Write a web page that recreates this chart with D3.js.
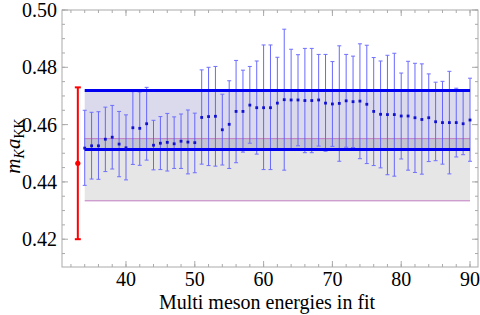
<!DOCTYPE html>
<html>
<head>
<meta charset="utf-8">
<script src="https://cdn.jsdelivr.net/npm/d3@7"></script>
<style>
  body { margin: 0; background: #fff; }
</style>
</head>
<body>
<div id="chart"></div>
<script>
// multi meson energies used in the fit
var fitCounts = [34, 35, 36, 37, 38, 39, 40, 41, 42, 43, 44, 45, 46, 47, 48, 49, 50,
    51, 52, 53, 54, 55, 56, 57, 58, 59, 60, 61, 62, 63, 64, 65, 66, 67, 68, 69, 70,
    71, 72, 73, 74, 75, 76, 77, 78, 79, 80, 81, 82, 83, 84, 85, 86, 87, 88, 89, 90];
var fitValues = [0.4518, 0.4526, 0.4526, 0.4549, 0.4556, 0.4532, 0.4519, 0.4589, 0.4587, 0.4603,
    0.4528, 0.4535, 0.4538, 0.4533, 0.4542, 0.4539, 0.4537, 0.4625, 0.4628, 0.4629,
    0.4582, 0.4601, 0.4646, 0.4646, 0.4668, 0.4659, 0.4659, 0.4659, 0.4675, 0.4687,
    0.4686, 0.4686, 0.4684, 0.4684, 0.4686, 0.4675, 0.4672, 0.4674, 0.4683, 0.4680,
    0.4682, 0.4671, 0.4646, 0.4636, 0.4635, 0.4635, 0.4630, 0.4630, 0.4624, 0.4618,
    0.4624, 0.4610, 0.4607, 0.4607, 0.4607, 0.4603, 0.4616];
var fitHigh = [0.4650, 0.4643, 0.4645, 0.4661, 0.4667, 0.4646, 0.4634, 0.4715, 0.4714, 0.4730,
    0.4615, 0.4628, 0.4639, 0.4627, 0.4637, 0.4651, 0.4640, 0.4791, 0.4800, 0.4803,
    0.4706, 0.4753, 0.4824, 0.4790, 0.4803, 0.4822, 0.4878, 0.4878, 0.4835, 0.4933,
    0.4863, 0.4844, 0.4866, 0.4866, 0.4845, 0.4845, 0.4820, 0.4875, 0.4845, 0.4839,
    0.4882, 0.4877, 0.4834, 0.4822, 0.4842, 0.4849, 0.4780, 0.4821, 0.4814, 0.4812,
    0.4777, 0.4748, 0.4751, 0.4786, 0.4727, 0.4716, 0.4762];
var fitLow = [0.4388, 0.4410, 0.4409, 0.4436, 0.4445, 0.4418, 0.4407, 0.4461, 0.4458, 0.4476,
    0.4442, 0.4443, 0.4438, 0.4447, 0.4447, 0.4428, 0.4432, 0.4462, 0.4457, 0.4455,
    0.4459, 0.4447, 0.4467, 0.4504, 0.4535, 0.4497, 0.4443, 0.4443, 0.4515, 0.4441,
    0.4512, 0.4526, 0.4502, 0.4502, 0.4525, 0.4507, 0.4524, 0.4472, 0.4521, 0.4520,
    0.4481, 0.4464, 0.4457, 0.4449, 0.4425, 0.4420, 0.4480, 0.4441, 0.4433, 0.4427,
    0.4471, 0.4474, 0.4462, 0.4428, 0.4487, 0.4495, 0.4472];

// reference point (red) and the two bands
var refPoint = { x: 33, y: 0.4465, low: 0.4200, high: 0.4730 };
var blueBand = [0.4513, 0.4719];
var grayBand = [0.4334, 0.4551];
var bandRange = [34, 90];

var xTicks = [40, 50, 60, 70, 80, 90];
var yTicks = [0.42, 0.44, 0.46, 0.48, 0.50];

var width = 480, height = 315;
var margin = { top: 10, right: 2, bottom: 48, left: 62 };
var serifStyle = "font-family: 'Liberation Serif', 'Times New Roman', serif !important;";

var x = d3.scaleLinear().domain([30.7, 91.16]).range([margin.left, width - margin.right]);
var y = d3.scaleLinear().domain([0.4103, 0.50]).range([height - margin.bottom, margin.top]);

var svg = d3.select("#chart").append("svg")
    .attr("width", width)
    .attr("height", height);

// bands
svg.append("rect")
    .attr("x", x(bandRange[0])).attr("width", x(bandRange[1]) - x(bandRange[0]))
    .attr("y", y(grayBand[1])).attr("height", y(grayBand[0]) - y(grayBand[1]))
    .attr("fill", "#e6e6e6");
svg.append("rect")
    .attr("x", x(bandRange[0])).attr("width", x(bandRange[1]) - x(bandRange[0]))
    .attr("y", y(blueBand[1])).attr("height", y(blueBand[0]) - y(blueBand[1]))
    .attr("fill", "#dadaec");
svg.append("rect")
    .attr("x", x(bandRange[0])).attr("width", x(bandRange[1]) - x(bandRange[0]))
    .attr("y", y(grayBand[1])).attr("height", y(blueBand[0]) - y(grayBand[1]))
    .attr("fill", "#c4c4d3");

svg.selectAll(".gray-edge")
    .data(grayBand)
    .enter().append("line")
    .attr("class", "gray-edge")
    .attr("x1", x(bandRange[0])).attr("x2", x(bandRange[1]))
    .attr("y1", d => y(d)).attr("y2", d => y(d))
    .attr("stroke", "#c07cc0")
    .attr("stroke-width", 1);

// frame and ticks
var plotW = width - margin.left - margin.right;
var plotH = height - margin.top - margin.bottom;
var bottomY = height - margin.bottom, rightX = width - margin.right;

svg.append("rect")
    .attr("x", margin.left).attr("y", margin.top)
    .attr("width", plotW).attr("height", plotH)
    .attr("fill", "none").attr("stroke", "#aaa").attr("stroke-width", 1);

var xMinor = d3.range(32, 92, 2);
var yMinor = d3.range(0.415, 0.5001, 0.005);

function xTick(v, len) {
    svg.append("line").attr("x1", x(v)).attr("x2", x(v))
        .attr("y1", bottomY).attr("y2", bottomY - len).attr("stroke", "#aaa");
    svg.append("line").attr("x1", x(v)).attr("x2", x(v))
        .attr("y1", margin.top).attr("y2", margin.top + len).attr("stroke", "#aaa");
}
function yTick(v, len) {
    svg.append("line").attr("x1", margin.left).attr("x2", margin.left + len)
        .attr("y1", y(v)).attr("y2", y(v)).attr("stroke", "#aaa");
    svg.append("line").attr("x1", rightX).attr("x2", rightX - len)
        .attr("y1", y(v)).attr("y2", y(v)).attr("stroke", "#aaa");
}
xMinor.forEach(v => xTick(v, 3));
xTicks.forEach(v => xTick(v, 6));
yMinor.forEach(v => yTick(v, 3));
yTicks.forEach(v => yTick(v, 6));

svg.selectAll(".xlab")
    .data(xTicks)
    .enter().append("text")
    .attr("x", d => x(d))
    .attr("y", bottomY + 19)
    .attr("text-anchor", "middle")
    .attr("style", serifStyle + " font-size: 20px;")
    .text(d => d);

svg.selectAll(".ylab")
    .data(yTicks)
    .enter().append("text")
    .attr("x", margin.left - 5)
    .attr("y", d => y(d) + 7)
    .attr("text-anchor", "end")
    .attr("style", serifStyle + " font-size: 20px;")
    .text(d => d3.format(".2f")(d));

svg.append("text")
    .attr("x", x(60.5))
    .attr("y", height - 6)
    .attr("text-anchor", "middle")
    .attr("style", serifStyle + " font-size: 20px;")
    .text("Multi meson energies in fit");

var yTitle = svg.append("text")
    .attr("transform", "translate(20,146) rotate(-90)")
    .attr("text-anchor", "middle")
    .attr("style", serifStyle + " font-size: 21px;");
yTitle.append("tspan").attr("font-style", "italic").text("m");
yTitle.append("tspan").attr("font-style", "italic").attr("font-size", "14px").attr("dy", 4).text("K");
yTitle.append("tspan").attr("font-style", "italic").attr("dy", -4).text("a");
yTitle.append("tspan").attr("font-size", "14px").attr("dy", 4).text("KK");

// error bars of the fits
var points = fitCounts.map((c, i) => ({ x: c, y: fitValues[i], hi: fitHigh[i], lo: fitLow[i] }));

var bars = svg.append("g");
bars.selectAll(".bar")
    .data(points)
    .enter().append("line")
    .attr("x1", d => x(d.x)).attr("x2", d => x(d.x))
    .attr("y1", d => y(d.hi)).attr("y2", d => y(d.lo))
    .attr("stroke", "#5a5aff").attr("stroke-width", 1).attr("opacity", 0.9);
bars.selectAll(".capHi")
    .data(points)
    .enter().append("line")
    .attr("x1", d => x(d.x) - 2).attr("x2", d => x(d.x) + 2)
    .attr("y1", d => y(d.hi)).attr("y2", d => y(d.hi))
    .attr("stroke", "#7070ff").attr("stroke-width", 1);
bars.selectAll(".capLo")
    .data(points)
    .enter().append("line")
    .attr("x1", d => x(d.x) - 2).attr("x2", d => x(d.x) + 2)
    .attr("y1", d => y(d.lo)).attr("y2", d => y(d.lo))
    .attr("stroke", "#7070ff").attr("stroke-width", 1);

// thick lines on the blue band
svg.selectAll(".blue-edge")
    .data(blueBand)
    .enter().append("line")
    .attr("x1", x(bandRange[0])).attr("x2", x(bandRange[1]))
    .attr("y1", d => y(d)).attr("y2", d => y(d))
    .attr("stroke", "#0000f0")
    .attr("stroke-width", 3);

svg.selectAll(".dot")
    .data(points)
    .enter().append("rect")
    .attr("x", d => x(d.x) - 1.4).attr("y", d => y(d.y) - 1.4)
    .attr("width", 2.8).attr("height", 2.8)
    .attr("fill", "#1010d0");

// red reference point
svg.append("line")
    .attr("x1", x(refPoint.x)).attr("x2", x(refPoint.x))
    .attr("y1", y(refPoint.high)).attr("y2", y(refPoint.low))
    .attr("stroke", "#ff0000").attr("stroke-width", 2);
[refPoint.high, refPoint.low].forEach(function(v) {
    svg.append("line")
        .attr("x1", x(refPoint.x) - 3).attr("x2", x(refPoint.x) + 3)
        .attr("y1", y(v)).attr("y2", y(v))
        .attr("stroke", "#ff0000").attr("stroke-width", 2);
});
svg.append("circle")
    .attr("cx", x(refPoint.x)).attr("cy", y(refPoint.y))
    .attr("r", 2.6).attr("fill", "#ff0000");
</script>
</body>
</html>
